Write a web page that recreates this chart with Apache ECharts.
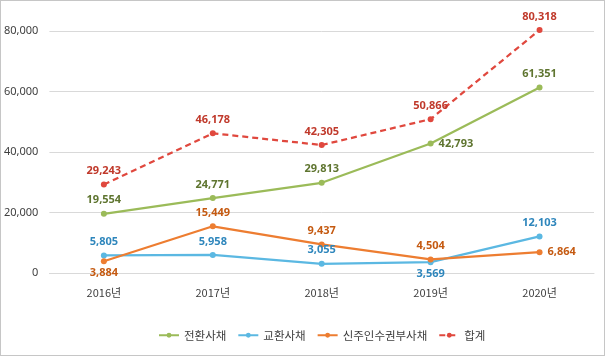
<!DOCTYPE html>
<html><head><meta charset="utf-8">
<script src="https://cdn.jsdelivr.net/npm/echarts@6/dist/echarts.min.js"></script>
<style>
html,body{margin:0;padding:0;background:#fff;}
#c{width:605px;height:356px;box-sizing:border-box;border:1px solid #c6c6c6;}
</style></head>
<body><div id="c"></div>
<script>
const categories = ['2016년','2017년','2018년','2019년','2020년'];
const seriesNames = ['전환사채','교환사채','신주인수권부사채','합계'];
const conversion = [19554, 24771, 29813, 42793, 61351];
const exchange = [5805, 5958, 3055, 3569, 12103];
const warrant = [3884, 15449, 9437, 4504, 6864];
const total = [29243, 46178, 42305, 50866, 80318];
const yTicks = [0, 20000, 40000, 60000, 80000];

const lineColors = ['#9BBB59', '#5BB8E2', '#ED7D31', '#E0483E'];
const labelColors = ['#5F7530', '#2E86BC', '#C55A11', '#C0392B'];
// per-point label placement overrides (style only)
const labelPlace = [
  [null, null, null, {position:'right', offset:[-6, 7]}, null],
  [null, null, null, {position:'bottom', distance:3}, null],
  [{position:'bottom', distance:3}, null, null, null, {position:'right', offset:[2, -10]}],
  [null, null, null, null, null]
];
const values = [conversion, exchange, warrant, total];
const fmt = v => v.toLocaleString('en-US');

const series = values.map((arr, i) => ({
  name: seriesNames[i],
  type: 'line',
  clip: false,
  data: arr.map((v, j) => labelPlace[i][j] ? {value: v, label: labelPlace[i][j]} : v),
  symbol: 'circle',
  symbolSize: 6,
  itemStyle: {color: lineColors[i]},
  lineStyle: {color: lineColors[i], width: 2.25, type: i === 3 ? [6, 4] : 'solid'},
  label: {
    show: true, position: 'top', distance: 5,
    color: labelColors[i], fontFamily: 'Noto Sans', fontWeight: 'bold', fontSize: 11,
    formatter: p => fmt(p.value)
  },
  labelLayout: {hideOverlap: false},
  z: i === 3 ? 3 : 2
}));

const chart = echarts.init(document.getElementById('c'), null, {renderer: 'canvas'});
chart.setOption({
  animation: false,
  textStyle: {fontFamily: "'Noto Sans', 'Noto Sans CJK KR', sans-serif"},
  grid: {left: 46, right: 10, top: 30, bottom: 82, containLabel: false},
  xAxis: {
    type: 'category', data: categories, boundaryGap: true,
    axisLine: {show: true, lineStyle: {color: '#d9d9d9'}},
    axisTick: {show: false},
    axisLabel: {color: '#404040', fontSize: 11, margin: 14, fontFamily: "'Noto Sans CJK KR', sans-serif"}
  },
  yAxis: {
    type: 'value', min: yTicks[0], max: yTicks[yTicks.length - 1], interval: 20000,
    axisLine: {show: false}, axisTick: {show: false},
    splitLine: {lineStyle: {color: '#d9d9d9', width: 1}},
    axisLabel: {color: '#404040', fontSize: 11, margin: 11, formatter: v => fmt(v)}
  },
  legend: {
    data: seriesNames, bottom: 9, left: 152,
    itemWidth: 20, itemHeight: 6, itemGap: 11,
    textStyle: {color: '#404040', fontSize: 11.5, fontFamily: "'Noto Sans CJK KR', sans-serif"}
  },
  series: series
});
</script></body></html>
